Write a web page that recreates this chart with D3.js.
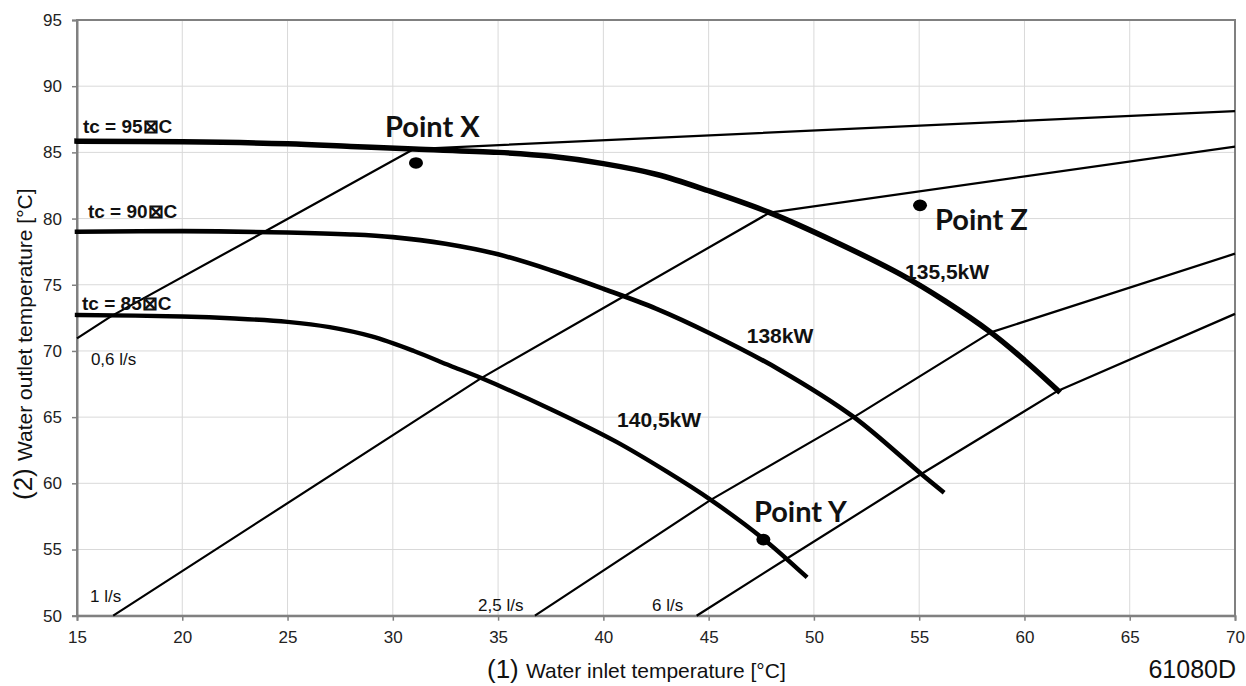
<!DOCTYPE html>
<html>
<head>
<meta charset="utf-8">
<script src="https://cdn.jsdelivr.net/npm/d3@7"></script>
<style>
  body { margin: 0; background: #fff; }
  text { font-family: "Liberation Sans", Arial, sans-serif; fill: #111; }
  .bold { font-weight: bold; }
  .pointLabel { font-family: Lato, "Open Sans", sans-serif; font-weight: bold; font-size: 29px; }
</style>
</head>
<body>
<script>
//ticks
var xTicks = [15, 20, 25, 30, 35, 40, 45, 50, 55, 60, 65, 70];
var yTicks = [50, 55, 60, 65, 70, 75, 80, 85, 90, 95];

//condensing temperature curves [inlet, outlet]
var tc95 = [[15,85.85],[20,85.8],[25,85.65],[28,85.45],[31,85.25],[35,85.0],[37.5,84.7],[40,84.15],[42.5,83.35],[45,82.1],[47.9,80.45],[51,78.25],[54.1,75.8],[56.2,73.8],[58.4,71.4],[60,69.3],[61.6,67.0]];
var tc90 = [[15,79.0],[20,79.05],[25,78.95],[28,78.8],[30,78.6],[32.5,78.1],[35,77.3],[37.5,76.1],[40,74.7],[42.5,73.2],[45.1,71.3],[48.4,68.55],[51.9,65.0],[55.1,60.7],[56.1,59.4]];
var tc85 = [[15,72.72],[20,72.6],[22.5,72.45],[25,72.2],[27,71.8],[29,71.1],[31,70.0],[32.7,68.9],[34.2,67.95],[37.5,65.6],[40.6,63.15],[43,60.9],[45.1,58.75],[47.6,55.8],[49.6,53.0]];

//water flow lines
var flow06 = [[15,70.95],[16.65,72.65],[23.9,79.0],[31.0,85.25],[70,88.12]];
var flow1 = [[16.72,50],[34.2,67.95],[41.0,74.15],[47.9,80.45],[70,85.43]];
var flow25 = [[36.75,50],[45.1,58.75],[51.9,65.0],[58.4,71.4],[70,77.35]];
var flow6 = [[44.43,50],[48.7,54.3],[55.1,60.7],[61.6,67.0],[70,72.8]];

//annotations (data coordinates)
var tcLabels = [
    { text: "tc = 95\u22A0C", x: 15.28, y: 86.46 },
    { text: "tc = 90\u22A0C", x: 15.52, y: 80.04 },
    { text: "tc = 85\u22A0C", x: 15.24, y: 73.09 }
];
var flowLabels = [
    { text: "0,6 l/s", x: 15.66, y: 68.93 },
    { text: "1 l/s", x: 15.62, y: 51.05 },
    { text: "2,5 l/s", x: 34.05, y: 50.39 },
    { text: "6 l/s", x: 42.31, y: 50.39 }
];
var powerLabels = [
    { text: "140,5kW", x: 40.65, y: 64.24 },
    { text: "138kW", x: 46.81, y: 70.57 },
    { text: "135,5kW", x: 54.33, y: 75.43 }
];
var points = [
    { name: "Point X", x: 31.1, y: 84.2, lx: 29.63, ly: 86.18 },
    { name: "Point Z", x: 55.04, y: 81.0, lx: 55.75, ly: 79.13 },
    { name: "Point Y", x: 47.6, y: 55.75, lx: 47.15, ly: 57.09 }
];

window.onload = function(){

    var w = 1246, h = 686;
    var pl = 77, pr = 1235, pt = 20, pb = 615.7; //plot area edges

    var svg = d3.select("body").append("svg")
        .attr("width", w)
        .attr("height", h);

    svg.append("rect").attr("width", w).attr("height", h).attr("fill", "#fff");

    var x = d3.scaleLinear().domain([15, 70]).range([pl, pr]);
    var y = d3.scaleLinear().domain([50, 95]).range([pb, pt]);

    //grid
    svg.append("g").selectAll("line").data(xTicks).enter().append("line")
        .attr("x1", function(d){ return x(d); })
        .attr("x2", function(d){ return x(d); })
        .attr("y1", pt).attr("y2", pb)
        .attr("stroke", "#d9d9d9").attr("stroke-width", 1);
    svg.append("g").selectAll("line").data(yTicks).enter().append("line")
        .attr("y1", function(d){ return y(d); })
        .attr("y2", function(d){ return y(d); })
        .attr("x1", pl).attr("x2", pr)
        .attr("stroke", "#d9d9d9").attr("stroke-width", 1);

    //frame
    svg.append("rect")
        .attr("x", pl).attr("y", pt)
        .attr("width", pr - pl).attr("height", pb - pt)
        .attr("fill", "none").attr("stroke", "#808080").attr("stroke-width", 2);

    //axes
    var xAxis = svg.append("g")
        .attr("transform", "translate(0," + pb + ")")
        .call(d3.axisBottom(x).tickValues(xTicks).tickSize(5).tickPadding(10));
    var yAxis = svg.append("g")
        .attr("transform", "translate(" + pl + ",0)")
        .call(d3.axisLeft(y).tickValues(yTicks).tickSize(5).tickPadding(10));
    [xAxis, yAxis].forEach(function(a){
        a.attr("font-size", null).attr("font-family", null);
        a.select(".domain").attr("stroke", "#808080").attr("stroke-width", 2);
        a.selectAll(".tick line").attr("stroke", "#808080").attr("stroke-width", 1.5);
        a.selectAll(".tick text")
            .style("font-family", "Liberation Sans, Arial, sans-serif")
            .style("font-size", "17px")
            .style("fill", "#222");
    });

    var line = d3.line()
        .x(function(d){ return x(d[0]); })
        .y(function(d){ return y(d[1]); });
    var curve = d3.line()
        .x(function(d){ return x(d[0]); })
        .y(function(d){ return y(d[1]); })
        .curve(d3.curveCatmullRom.alpha(0.5));

    //flow lines (thin)
    [flow06, flow1, flow25, flow6].forEach(function(f){
        svg.append("path").datum(f)
            .attr("d", line)
            .attr("fill", "none")
            .attr("stroke", "#000")
            .attr("stroke-width", 2.2)
            .attr("stroke-linejoin", "round");
    });

    //tc curves (thick)
    [[tc95, 5.5], [tc90, 4.6], [tc85, 4.4]].forEach(function(c){
        svg.append("path").datum(c[0])
            .attr("d", curve)
            .attr("fill", "none")
            .attr("stroke", "#000")
            .attr("stroke-width", c[1])
            .attr("stroke-linecap", "square");
    });

    //labels
    svg.selectAll(".tcLabel").data(tcLabels).enter().append("text")
        .attr("class", "tcLabel bold")
        .attr("x", function(d){ return x(d.x); })
        .attr("y", function(d){ return y(d.y); })
        .style("font-size", "19px")
        .text(function(d){ return d.text; });

    svg.selectAll(".flowLabel").data(flowLabels).enter().append("text")
        .attr("class", "flowLabel")
        .attr("x", function(d){ return x(d.x); })
        .attr("y", function(d){ return y(d.y); })
        .style("font-size", "17px")
        .text(function(d){ return d.text; });

    svg.selectAll(".powerLabel").data(powerLabels).enter().append("text")
        .attr("class", "powerLabel bold")
        .attr("x", function(d){ return x(d.x); })
        .attr("y", function(d){ return y(d.y); })
        .style("font-size", "21px")
        .text(function(d){ return d.text; });

    //operating points
    svg.selectAll(".dot").data(points).enter().append("ellipse")
        .attr("class", "dot")
        .attr("cx", function(d){ return x(d.x); })
        .attr("cy", function(d){ return y(d.y); })
        .attr("rx", 7).attr("ry", 5.8)
        .attr("fill", "#000");

    svg.selectAll(".pointLabel").data(points).enter().append("text")
        .attr("class", "pointLabel")
        .attr("x", function(d){ return x(d.lx); })
        .attr("y", function(d){ return y(d.ly); })
        .text(function(d){ return d.name; });

    //axis titles
    var xTitle = svg.append("text")
        .attr("x", 487).attr("y", 678)
        .style("font-size", "21px");
    xTitle.append("tspan").style("font-size", "26px").text("(1) ");
    xTitle.append("tspan").text("Water inlet temperature [°C]");

    var yTitle = svg.append("text")
        .attr("transform", "translate(32,500) rotate(-90)")
        .style("font-size", "21px");
    yTitle.append("tspan").style("font-size", "26px").text("(2) ");
    yTitle.append("tspan").text("Water outlet temperature [°C]");

    svg.append("text")
        .attr("x", 1236).attr("y", 678)
        .attr("text-anchor", "end")
        .style("font-size", "25px")
        .text("61080D");
};
</script>
</body>
</html>
